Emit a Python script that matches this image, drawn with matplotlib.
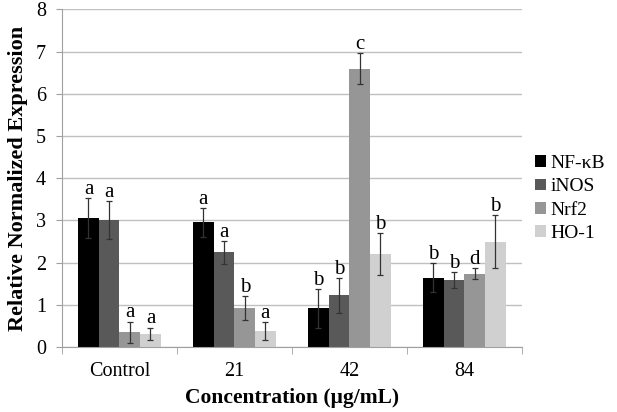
import numpy as np
import matplotlib.pyplot as plt

plt.rcParams['font.family'] = ['Liberation Serif', 'DejaVu Serif']

# Datos
grupos = ['Control', '21', '42', '84']
genes = ['NF-\u03baB', 'iNOS', 'Nrf2', 'HO-1']
valores = [
    [3.06, 2.95, 0.92, 1.64],   # NF-kB
    [3.00, 2.24, 1.22, 1.59],   # iNOS
    [0.35, 0.92, 6.60, 1.73],   # Nrf2
    [0.31, 0.37, 2.20, 2.49],   # HO-1
]
errores = [
    [0.47, 0.35, 0.46, 0.34],
    [0.45, 0.27, 0.42, 0.19],
    [0.25, 0.29, 0.37, 0.13],
    [0.15, 0.21, 0.49, 0.63],
]
letras = [
    ['a', 'a', 'b', 'b'],
    ['a', 'a', 'b', 'b'],
    ['a', 'b', 'c', 'd'],
    ['a', 'a', 'b', 'b'],
]
colores = ['#000000', '#595959', '#969696', '#d0d0d0']

fig = plt.figure(figsize=(6.17, 4.12), dpi=100)
ax = fig.add_axes([0.1005, 0.158, 0.745, 0.819])

x = np.arange(len(grupos))
ancho = 0.18
for i in range(len(genes)):
    pos = x + (i - 1.5) * ancho
    ax.bar(pos, valores[i], ancho, color=colores[i], label=genes[i], zorder=2)
    ax.errorbar(pos, valores[i], yerr=errores[i], fmt='none', ecolor='#333333',
                elinewidth=0.9, capsize=2.5, capthick=0.9, zorder=3)
    for j in range(len(grupos)):
        ax.text(pos[j], valores[i][j] + errores[i][j] - 0.02, letras[i][j],
                ha='center', va='bottom', fontsize=15)

ax.set_xlim(-0.5, 3.5)
ax.set_ylim(0, 8)
ax.set_yticks(range(0, 9))
ax.yaxis.grid(True, color='#c0c0c0', linewidth=1)
ax.set_axisbelow(True)
ax.set_xticks(x)
ax.set_xticklabels(grupos)
ax.set_xticks(np.arange(-0.5, 4, 1), minor=True)
ax.tick_params(axis='x', which='major', length=0, labelsize=14.5, pad=11)
ax.tick_params(axis='x', which='minor', length=5, color='#a0a0a0')
ax.tick_params(axis='y', length=4.5, color='#a0a0a0', labelsize=14.5, pad=7)

for s in ['top', 'right']:
    ax.spines[s].set_visible(False)
ax.spines['left'].set_color('#a0a0a0')
ax.spines['bottom'].set_color('#a0a0a0')

ax.set_xlabel('Concentration (\u03bcg/mL)', fontsize=15.5, fontweight='bold', labelpad=5)
ax.set_ylabel('Relative Normalized Expression', fontsize=16, fontweight='bold', labelpad=6)

ax.legend(loc='center left', bbox_to_anchor=(1.0, 0.44), frameon=False, fontsize=14,
          handlelength=0.55, handleheight=0.55, handletextpad=0.25, labelspacing=0.32,
          borderaxespad=0.3)

plt.savefig('out.png', dpi=100)
